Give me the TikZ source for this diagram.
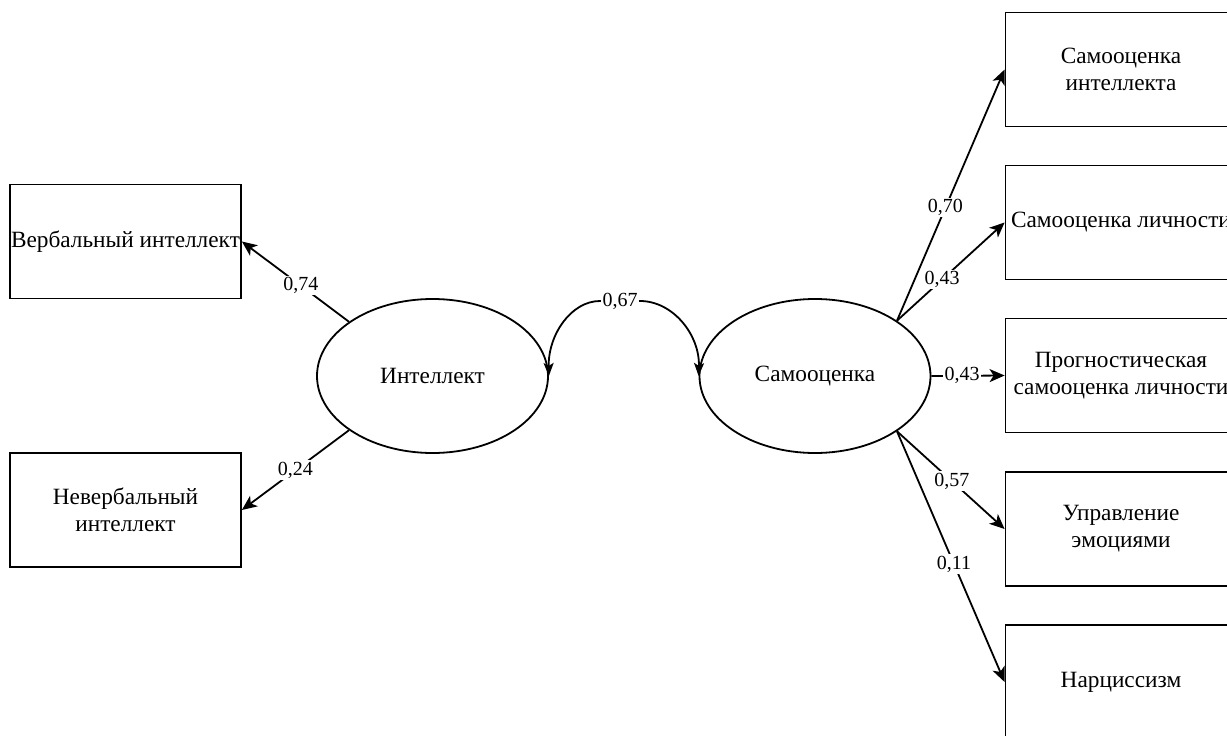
\documentclass[tikz,border=0pt]{standalone}
\usepackage{fontspec}
\setmainfont{Liberation Serif}
\usetikzlibrary{arrows.meta,shapes.geometric}
\begin{document}
\begin{tikzpicture}[x=1pt,y=-1pt,
  txt/.style={font=\fontsize{23.3}{27}\selectfont, align=center},
  box/.style={txt, draw, line width=1.8pt, minimum width=231pt, minimum height=114pt, inner sep=0pt},
  latent/.style={txt, draw, ellipse, line width=1.8pt, minimum width=231pt, minimum height=154pt, inner sep=0pt},
  lbl/.style={font=\fontsize{20}{24}\selectfont, fill=white, inner sep=1.5pt},
  conn/.style={line width=1.8pt, -{Stealth[length=15pt,width=13pt,inset=4pt]}},
  biconn/.style={line width=1.8pt, {Stealth[length=13pt,width=10pt,inset=3pt]}-{Stealth[length=13pt,width=10pt,inset=3pt]}}
]
\useasboundingbox (0,0) rectangle (1227,736);
\clip (0,0) rectangle (1227,736);

\node[box] (V) at (125.5,241.5) {Вербальный интеллект};
\node[box] (N) at (125.5,510) {Невербальный\\интеллект};

\node[latent] (I) at (432.5,376) {Интеллект};
\node[latent] (S) at (815,376) {Самооценка};

\node[box] (R1) at (1121,69.5) {Самооценка\\интеллекта};
\node[box] (R2) at (1121,222.5) {Самооценка личности};
\node[box] (R3) at (1121,375.5) {Прогностическая\\самооценка личности};
\node[box] (R4) at (1121,529) {Управление\\эмоциями};
\node[box] (R5) at (1121,682) {Нарциссизм};

\draw[conn] (I.147) -- node[lbl, pos=0.45] {0,74} (V.east);
\draw[conn] (I.213) -- node[lbl, pos=0.5] {0,24} (N.east);

\draw[biconn] (I.east) .. controls (548,335) and (571,301) .. (600,301)
  -- node[lbl] {0,67} (640,301) .. controls (673,301) and (700,335) .. (S.west);

\draw[conn] (S.34) -- node[lbl, pos=0.45] {0,70} (R1.west);
\draw[conn] (S.34) -- node[lbl, pos=0.42] {0,43} (R2.west);
\draw[conn] (S.east) -- node[lbl, pos=0.42] {0,43} (R3.west);
\draw[conn] (S.-34) -- node[lbl, pos=0.51] {0,57} (R4.west);
\draw[conn] (S.-34) -- node[lbl, pos=0.53] {0,11} (R5.west);
\end{tikzpicture}
\end{document}
